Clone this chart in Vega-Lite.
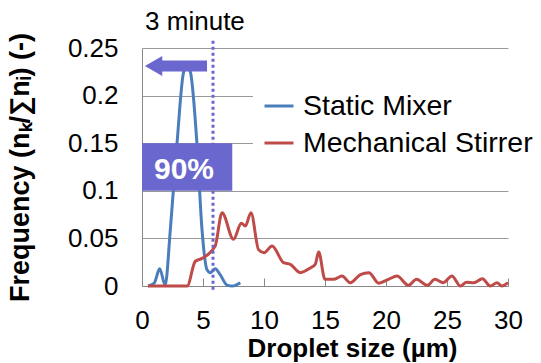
{
  "$schema": "https://vega.github.io/schema/vega-lite/v6.json",
  "width": 366,
  "height": 238,
  "autosize": {"type": "none"},
  "padding": {"left": 142, "top": 48, "right": 33, "bottom": 77},
  "background": "white",
  "config": {
    "view": {"stroke": null},
    "font": "Liberation Sans",
    "axis": {"labelFont": "Liberation Sans", "titleFont": "Liberation Sans", "labelColor": "black", "titleColor": "black"}
  },
  "layer": [
    {
      "data": {"values": [
        {"x": 0.5, "y": 0, "series": "Static Mixer"},
        {"x": 1.0, "y": 0.003, "series": "Static Mixer"},
        {"x": 1.45, "y": 0.018, "series": "Static Mixer"},
        {"x": 1.9, "y": 0.001, "series": "Static Mixer"},
        {"x": 2.32, "y": 0.059, "series": "Static Mixer"},
        {"x": 2.87, "y": 0.15, "series": "Static Mixer"},
        {"x": 3.42, "y": 0.225, "series": "Static Mixer"},
        {"x": 3.69, "y": 0.23, "series": "Static Mixer"},
        {"x": 3.96, "y": 0.225, "series": "Static Mixer"},
        {"x": 4.5, "y": 0.15, "series": "Static Mixer"},
        {"x": 4.92, "y": 0.059, "series": "Static Mixer"},
        {"x": 5.33, "y": 0.017, "series": "Static Mixer"},
        {"x": 5.6, "y": 0.014, "series": "Static Mixer"},
        {"x": 6.0, "y": 0.018, "series": "Static Mixer"},
        {"x": 6.4, "y": 0.012, "series": "Static Mixer"},
        {"x": 6.97, "y": 0.001, "series": "Static Mixer"},
        {"x": 7.4, "y": 0, "series": "Static Mixer"},
        {"x": 8.06, "y": 0.0035, "series": "Static Mixer"},
        {"x": 0.5, "y": 0, "series": "Mechanical Stirrer"},
        {"x": 3.7, "y": 0, "series": "Mechanical Stirrer"},
        {"x": 4.37, "y": 0.026, "series": "Mechanical Stirrer"},
        {"x": 4.92, "y": 0.029, "series": "Mechanical Stirrer"},
        {"x": 6.0, "y": 0.042, "series": "Mechanical Stirrer"},
        {"x": 6.56, "y": 0.077, "series": "Mechanical Stirrer"},
        {"x": 7.5, "y": 0.049, "series": "Mechanical Stirrer"},
        {"x": 8.14, "y": 0.066, "series": "Mechanical Stirrer"},
        {"x": 8.47, "y": 0.063, "series": "Mechanical Stirrer"},
        {"x": 8.93, "y": 0.077, "series": "Mechanical Stirrer"},
        {"x": 9.56, "y": 0.038, "series": "Mechanical Stirrer"},
        {"x": 10.0, "y": 0.035, "series": "Mechanical Stirrer"},
        {"x": 10.66, "y": 0.042, "series": "Mechanical Stirrer"},
        {"x": 11.6, "y": 0.0245, "series": "Mechanical Stirrer"},
        {"x": 12.16, "y": 0.0227, "series": "Mechanical Stirrer"},
        {"x": 12.97, "y": 0.014, "series": "Mechanical Stirrer"},
        {"x": 13.8, "y": 0.019, "series": "Mechanical Stirrer"},
        {"x": 14.2, "y": 0.0227, "series": "Mechanical Stirrer"},
        {"x": 14.48, "y": 0.0357, "series": "Mechanical Stirrer"},
        {"x": 15.0, "y": 0.007, "series": "Mechanical Stirrer"},
        {"x": 15.7, "y": 0.007, "series": "Mechanical Stirrer"},
        {"x": 16.4, "y": 0.0105, "series": "Mechanical Stirrer"},
        {"x": 17.07, "y": 0.0035, "series": "Mechanical Stirrer"},
        {"x": 17.9, "y": 0.012, "series": "Mechanical Stirrer"},
        {"x": 18.6, "y": 0.014, "series": "Mechanical Stirrer"},
        {"x": 19.4, "y": 0.003, "series": "Mechanical Stirrer"},
        {"x": 20.2, "y": 0.007, "series": "Mechanical Stirrer"},
        {"x": 20.9, "y": 0.0105, "series": "Mechanical Stirrer"},
        {"x": 21.85, "y": 0.0007, "series": "Mechanical Stirrer"},
        {"x": 22.5, "y": 0.007, "series": "Mechanical Stirrer"},
        {"x": 23.4, "y": 0.0007, "series": "Mechanical Stirrer"},
        {"x": 24.0, "y": 0.007, "series": "Mechanical Stirrer"},
        {"x": 24.7, "y": 0.0035, "series": "Mechanical Stirrer"},
        {"x": 25.4, "y": 0.0105, "series": "Mechanical Stirrer"},
        {"x": 26.1, "y": 0, "series": "Mechanical Stirrer"},
        {"x": 26.6, "y": 0.004, "series": "Mechanical Stirrer"},
        {"x": 27.2, "y": 0.0035, "series": "Mechanical Stirrer"},
        {"x": 27.9, "y": 0.0077, "series": "Mechanical Stirrer"},
        {"x": 28.55, "y": 0, "series": "Mechanical Stirrer"},
        {"x": 29.1, "y": 0.0035, "series": "Mechanical Stirrer"},
        {"x": 29.5, "y": 0, "series": "Mechanical Stirrer"},
        {"x": 30.0, "y": 0.0035, "series": "Mechanical Stirrer"}
      ]},
      "mark": {"type": "line", "interpolate": "monotone", "strokeWidth": 3},
      "encoding": {
        "x": {"field": "x", "type": "quantitative",
          "scale": {"domain": [0, 30], "nice": false, "zero": false},
          "axis": {"values": [0, 5, 10, 15, 20, 25, 30], "grid": false, "domainColor": "#888888", "tickColor": "#888888", "tickSize": -8, "labelFontSize": 26, "labelPadding": 29, "labelFlush": false,
            "title": "Droplet size (µm)", "titleFontSize": 26, "titleFontWeight": "bold", "titleX": 210, "titleY": 62, "titleBaseline": "middle", "titleAlign": "center"}},
        "y": {"field": "y", "type": "quantitative",
          "scale": {"domain": [0, 0.25], "nice": false},
          "axis": {"values": [0, 0.05, 0.1, 0.15, 0.2, 0.25], "format": "~g", "grid": true, "gridColor": "#999999", "ticks": false, "domainColor": "#888888", "labelFontSize": 26, "labelPadding": 24, "labelFlush": false,
            "title": "Frequency (nₖ/∑nᵢ) (-)", "titleFontSize": 27, "titleFontWeight": "bold", "titleX": -122, "titleY": 119, "titleAngle": 270, "titleBaseline": "middle", "titleAlign": "center"}},
        "color": {"field": "series", "type": "nominal",
          "scale": {"domain": ["Static Mixer", "Mechanical Stirrer"], "range": ["#4a7ebb", "#be4b48"]},
          "legend": {"title": null, "orient": "none", "legendX": 111, "legendY": 32, "fillColor": "white", "padding": 10, "symbolType": "stroke", "symbolSize": 841, "symbolStrokeWidth": 3, "labelFontSize": 28.5, "labelFont": "Liberation Sans", "labelColor": "black", "labelOffset": 8, "rowPadding": 6, "labelLimit": 400}}
      }
    },
    {
      "data": {"values": [{"x": 5.82, "y": -0.004, "y2": 0.258}]},
      "mark": {"type": "rule", "color": "#6a67ce", "strokeWidth": 3, "strokeDash": [3, 3]},
      "encoding": {"x": {"field": "x", "type": "quantitative"}, "y": {"field": "y", "type": "quantitative"}, "y2": {"field": "y2"}}
    },
    {
      "data": {"values": [{"x": 0, "x2": 7.4, "y": 0.1, "y2": 0.15}]},
      "mark": {"type": "rect", "color": "#6a67ce"},
      "encoding": {"x": {"field": "x", "type": "quantitative"}, "x2": {"field": "x2"}, "y": {"field": "y", "type": "quantitative"}, "y2": {"field": "y2"}}
    },
    {
      "data": {"values": [{"x": 3.44, "y": 0.1218, "label": "90%"}]},
      "mark": {"type": "text", "color": "white", "fontWeight": "bold", "fontSize": 30, "font": "Liberation Sans", "baseline": "middle", "align": "center"},
      "encoding": {"x": {"field": "x", "type": "quantitative"}, "y": {"field": "y", "type": "quantitative"}, "text": {"field": "label"}}
    },
    {
      "data": {"values": [{"x": 1.1, "x2": 5.33, "y": 0.231}]},
      "mark": {"type": "rule", "color": "#6a67ce", "strokeWidth": 11},
      "encoding": {"x": {"field": "x", "type": "quantitative"}, "x2": {"field": "x2"}, "y": {"field": "y", "type": "quantitative"}}
    },
    {
      "data": {"values": [{"x": 0.95, "y": 0.231}]},
      "mark": {"type": "point", "shape": "triangle-left", "filled": true, "color": "#6a67ce", "size": 400, "opacity": 1},
      "encoding": {"x": {"field": "x", "type": "quantitative"}, "y": {"field": "y", "type": "quantitative"}}
    },
    {
      "data": {"values": [{"x": 4.34, "y": 0.277, "label": "3 minute"}]},
      "mark": {"type": "text", "color": "black", "fontSize": 26, "font": "Liberation Sans", "baseline": "middle", "align": "center"},
      "encoding": {"x": {"field": "x", "type": "quantitative"}, "y": {"field": "y", "type": "quantitative"}, "text": {"field": "label"}}
    }
  ]
}
